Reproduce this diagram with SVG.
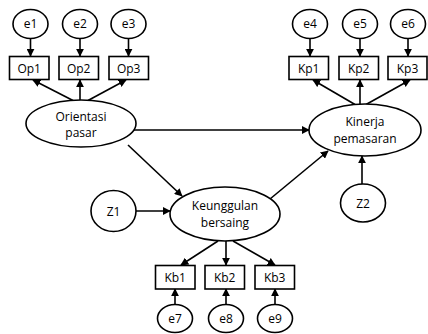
<svg xmlns="http://www.w3.org/2000/svg" width="428" height="334" viewBox="0 0 428 334">
<style>
.n ellipse, .n rect { fill: #fff; stroke: #000; stroke-width: 1.6; }
text { font-family: "Open Sans", "Liberation Sans", sans-serif; font-size: 12px; fill: #000; text-anchor: middle; }
.c line { stroke: #000; stroke-width: 1.6; marker-end: url(#ah); }
</style>
<defs>
<marker id="ah" viewBox="0 0 10 10" refX="9" refY="5" markerWidth="5" markerHeight="5" orient="auto" markerUnits="strokeWidth">
<path d="M0,0 L10,5 L0,10 z" fill="#000"/>
</marker>
</defs>
<rect width="428" height="334" fill="#fff"/>
<g id="connectors" class="c">
<line x1="30.5" y1="38.5" x2="30.5" y2="56"/>
<line x1="80" y1="38.5" x2="80" y2="56"/>
<line x1="128.5" y1="38.5" x2="128.5" y2="56"/>
<line x1="310" y1="38.5" x2="310" y2="56"/>
<line x1="360" y1="38.5" x2="360" y2="56"/>
<line x1="408" y1="38.5" x2="408" y2="56"/>
<line x1="73" y1="100.5" x2="33" y2="80"/>
<line x1="80" y1="100" x2="80" y2="80"/>
<line x1="88" y1="100.5" x2="126" y2="80"/>
<line x1="355" y1="104.5" x2="313" y2="80"/>
<line x1="360" y1="104" x2="360" y2="80"/>
<line x1="366" y1="104.5" x2="410" y2="80"/>
<line x1="134" y1="130" x2="309" y2="130"/>
<line x1="128" y1="145" x2="182" y2="196"/>
<line x1="270" y1="199" x2="328" y2="151"/>
<line x1="136" y1="211" x2="170" y2="211"/>
<line x1="362" y1="184" x2="362" y2="156"/>
<line x1="218" y1="241" x2="181" y2="265"/>
<line x1="226" y1="241" x2="226" y2="265"/>
<line x1="233" y1="241" x2="275" y2="265"/>
<line x1="175" y1="304" x2="175" y2="289"/>
<line x1="226" y1="304" x2="226" y2="289"/>
<line x1="275" y1="304" x2="275" y2="289"/>
</g>
<g id="e1" class="n"><ellipse cx="30.5" cy="24" rx="17.5" ry="14.5"/><text x="30.5" y="28">e1</text></g>
<g id="e2" class="n"><ellipse cx="80" cy="24" rx="17.5" ry="14.5"/><text x="80" y="28">e2</text></g>
<g id="e3" class="n"><ellipse cx="128.5" cy="24" rx="17.5" ry="14.5"/><text x="128.5" y="28">e3</text></g>
<g id="Op1" class="n"><rect x="9.5" y="56.5" width="39.5" height="23"/><text x="29.2" y="72.5">Op1</text></g>
<g id="Op2" class="n"><rect x="59" y="56.5" width="39.5" height="23"/><text x="78.7" y="72.5">Op2</text></g>
<g id="Op3" class="n"><rect x="109" y="56.5" width="39.5" height="23"/><text x="128.7" y="72.5">Op3</text></g>
<g id="e4" class="n"><ellipse cx="310" cy="24" rx="17.5" ry="14.5"/><text x="310" y="28">e4</text></g>
<g id="e5" class="n"><ellipse cx="360" cy="24" rx="17.5" ry="14.5"/><text x="360" y="28">e5</text></g>
<g id="e6" class="n"><ellipse cx="408" cy="24" rx="17.5" ry="14.5"/><text x="408" y="28">e6</text></g>
<g id="Kp1" class="n"><rect x="289" y="56.5" width="39.5" height="23"/><text x="308.7" y="72.5">Kp1</text></g>
<g id="Kp2" class="n"><rect x="339" y="56.5" width="39.5" height="23"/><text x="358.7" y="72.5">Kp2</text></g>
<g id="Kp3" class="n"><rect x="388" y="56.5" width="39" height="23"/><text x="407.5" y="72.5">Kp3</text></g>
<g id="orientasi" class="n"><ellipse cx="81" cy="123.5" rx="55" ry="23.5"/><text x="81" y="120.5">Orientasi</text><text x="81" y="137">pasar</text></g>
<g id="kinerja" class="n"><ellipse cx="365" cy="130" rx="56" ry="26"/><text x="365" y="126">Kinerja</text><text x="365" y="142.5">pemasaran</text></g>
<g id="Z1" class="n"><ellipse cx="113.5" cy="211" rx="22.5" ry="20.5"/><text x="113.5" y="215.5">Z1</text></g>
<g id="keunggulan" class="n"><ellipse cx="225" cy="214" rx="55" ry="27"/><text x="225" y="210">Keunggulan</text><text x="225" y="226.5">bersaing</text></g>
<g id="Z2" class="n"><ellipse cx="363" cy="203" rx="22.5" ry="19"/><text x="363" y="207.5">Z2</text></g>
<g id="Kb1" class="n"><rect x="155.5" y="265.5" width="39.5" height="23.5"/><text x="175.2" y="281.5">Kb1</text></g>
<g id="Kb2" class="n"><rect x="205" y="265.5" width="39.5" height="23.5"/><text x="224.7" y="281.5">Kb2</text></g>
<g id="Kb3" class="n"><rect x="255" y="265.5" width="39.5" height="23.5"/><text x="274.7" y="281.5">Kb3</text></g>
<g id="e7" class="n"><ellipse cx="175" cy="318.5" rx="17.5" ry="14"/><text x="175" y="322.5">e7</text></g>
<g id="e8" class="n"><ellipse cx="226" cy="318.5" rx="17.5" ry="14"/><text x="226" y="322.5">e8</text></g>
<g id="e9" class="n"><ellipse cx="275" cy="318.5" rx="17.5" ry="14"/><text x="275" y="322.5">e9</text></g>
</svg>
